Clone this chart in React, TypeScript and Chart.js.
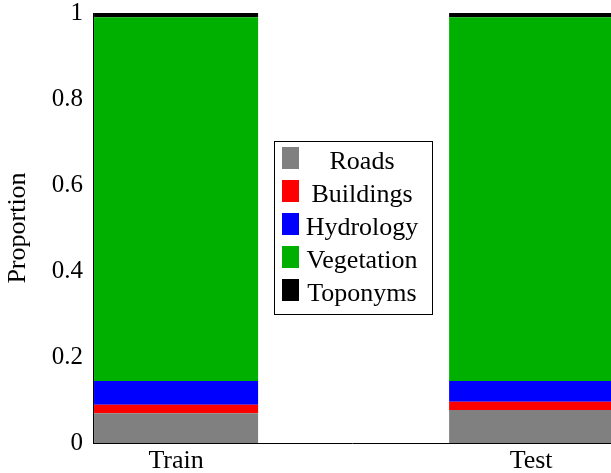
import React, { useEffect, useRef } from "react";
import { Chart, registerables } from "chart.js";

Chart.register(...registerables);

const categories = ["Train", "Test"];
const roads = [0.069, 0.077];
const buildings = [0.02, 0.019];
const hydrology = [0.055, 0.048];
const vegetation = [0.846, 0.846];
const toponyms = [0.01, 0.01];
const yTickLabels = ["0", "0.2", "0.4", "0.6", "0.8", "1"];

const seriesNames = ["Roads", "Buildings", "Hydrology", "Vegetation", "Toponyms"];
const seriesValues = [roads, buildings, hydrology, vegetation, toponyms];
const seriesColors = ["#808080", "#ff0000", "#0000ff", "#00b000", "#000000"];

const FONT = '"Liberation Serif", "Times New Roman", serif';

const boxLegend = {
  id: "boxLegend",
  afterDatasetsDraw(chart: any) {
    const ctx = chart.ctx;
    ctx.save();
    ctx.fillStyle = "#ffffff";
    ctx.fillRect(274.5, 141.5, 158, 173);
    ctx.strokeStyle = "#000000";
    ctx.lineWidth = 1;
    ctx.strokeRect(274.5, 141.5, 158, 173);
    chart.data.datasets.forEach((ds: any, i: number) => {
      const base = 169 + i * 33;
      ctx.fillStyle = ds.backgroundColor;
      ctx.fillRect(282, base - 22, 17, 22);
      ctx.fillStyle = "#000000";
      ctx.font = `26px ${FONT}`;
      ctx.textAlign = "center";
      ctx.textBaseline = "alphabetic";
      ctx.fillText(ds.label, 362, base);
    });
    ctx.restore();
  },
};

export default function App() {
  const ref = useRef<HTMLCanvasElement | null>(null);
  useEffect(() => {
    if (!ref.current) return;
    const chart = new Chart(ref.current, {
      type: "bar",
      data: {
        datasets: seriesNames.map((name, i) => ({
          label: name,
          data: categories.map((_, j) => ({ x: j, y: seriesValues[i][j] })),
          backgroundColor: seriesColors[i],
          borderWidth: 0,
          categoryPercentage: 1,
          barPercentage: 0.462,
        })),
      },
      options: {
        animation: false,
        responsive: true,
        maintainAspectRatio: false,
        layout: { padding: 0 },
        plugins: { legend: { display: false }, tooltip: { enabled: false } },
        scales: {
          x: {
            type: "linear",
            stacked: true,
            offset: false,
            min: -0.234,
            max: 1.225,
            grid: { display: false, drawTicks: false, offset: false },
            border: { display: true, color: "#000000", width: 1 },
            afterBuildTicks: (scale: any) => {
              scale.ticks = categories.map((_, i) => ({ value: i }));
            },
            afterFit: (scale: any) => {
              scale.height = 30;
            },
            ticks: {
              autoSkip: false,
              maxRotation: 0,
              padding: 3,
              color: "#000000",
              font: { family: FONT, size: 26 },
              callback: (v: any) => categories[Math.round(Number(v))] ?? "",
            },
          },
          y: {
            stacked: true,
            min: 0,
            max: 1,
            grid: { display: false, drawTicks: false },
            border: { display: true, color: "#000000", width: 1 },
            afterFit: (scale: any) => {
              scale.width = 93;
              scale.paddingTop = 13;
              scale.paddingBottom = 0;
            },
            ticks: {
              stepSize: 0.2,
              padding: 10,
              color: "#000000",
              font: { family: FONT, size: 25 },
              callback: (_v: any, i: number) => yTickLabels[i],
            },
            title: {
              display: true,
              text: "Proportion",
              color: "#000000",
              font: { family: FONT, size: 26 },
              padding: { top: 3, bottom: 0 },
            },
          },
        },
      },
      plugins: [boxLegend],
    } as any);
    return () => chart.destroy();
  }, []);
  return (
    <div style={{ position: "absolute", left: 0, top: 0, width: 611, height: 473, background: "#fff" }}>
      <canvas ref={ref} />
    </div>
  );
}
